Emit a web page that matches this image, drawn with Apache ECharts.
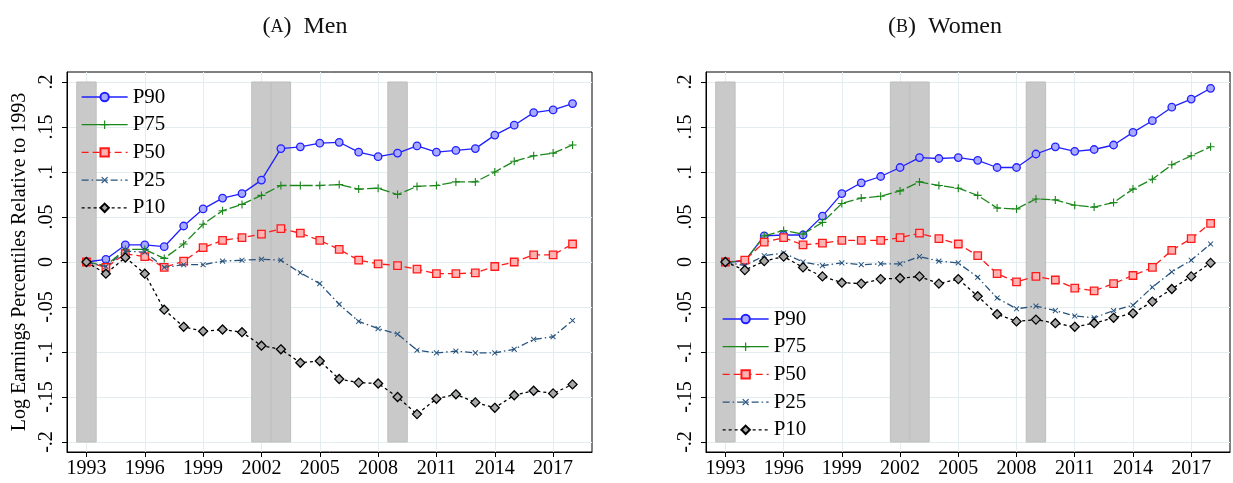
<!DOCTYPE html>
<html>
<head>
<meta charset="utf-8">
<script src="https://cdn.jsdelivr.net/npm/echarts@6/dist/echarts.min.js"></script>
<style>
  html, body { margin: 0; padding: 0; background: #ffffff; }
  #chart { width: 1233px; height: 483px; }
</style>
</head>
<body>
<div id="chart"></div>
<script>
// Survey years
const years = [1993, 1994, 1995, 1996, 1997, 1998, 1999, 2000, 2001, 2002, 2003, 2004, 2005,
               2006, 2007, 2008, 2009, 2010, 2011, 2012, 2013, 2014, 2015, 2016, 2017, 2018];

// Men: log earnings percentiles relative to 1993
const menP90 = [0, 0.003, 0.019, 0.019, 0.017, 0.040, 0.059, 0.071, 0.076, 0.091, 0.126, 0.128, 0.132,
                0.133, 0.122, 0.117, 0.121, 0.129, 0.122, 0.124, 0.126, 0.141, 0.152, 0.166, 0.169, 0.176];
const menP75 = [0, -0.004, 0.014, 0.014, 0.004, 0.020, 0.042, 0.057, 0.064, 0.074, 0.085, 0.085, 0.085,
                0.086, 0.081, 0.082, 0.075, 0.084, 0.085, 0.089, 0.089, 0.100, 0.112, 0.118, 0.121, 0.130];
const menP50 = [0, -0.006, 0.009, 0.006, -0.006, 0.001, 0.016, 0.024, 0.027, 0.031, 0.037, 0.032, 0.024,
                0.014, 0.002, -0.002, -0.004, -0.008, -0.013, -0.013, -0.012, -0.005, 0.000, 0.008, 0.008, 0.020];
const menP25 = [0, -0.005, 0.012, 0.011, -0.006, -0.003, -0.003, 0.001, 0.002, 0.003, 0.002, -0.012, -0.024,
                -0.047, -0.066, -0.074, -0.080, -0.098, -0.101, -0.099, -0.101, -0.101, -0.097, -0.086, -0.083, -0.065];
const menP10 = [0, -0.013, 0.005, -0.013, -0.053, -0.072, -0.077, -0.075, -0.078, -0.093, -0.097, -0.112, -0.110,
                -0.130, -0.134, -0.135, -0.150, -0.169, -0.152, -0.147, -0.156, -0.162, -0.148, -0.143, -0.146, -0.136];

// Women: log earnings percentiles relative to 1993
const womenP90 = [0, 0.001, 0.029, 0.030, 0.030, 0.051, 0.076, 0.088, 0.095, 0.105, 0.116, 0.115, 0.116,
                  0.113, 0.105, 0.105, 0.120, 0.128, 0.123, 0.125, 0.130, 0.144, 0.157, 0.172, 0.181, 0.193];
const womenP75 = [0, 0.001, 0.029, 0.035, 0.031, 0.044, 0.065, 0.071, 0.073, 0.079, 0.089, 0.085, 0.082,
                  0.074, 0.060, 0.059, 0.070, 0.069, 0.063, 0.061, 0.066, 0.081, 0.092, 0.108, 0.118, 0.128];
const womenP50 = [0, 0.002, 0.022, 0.027, 0.019, 0.021, 0.024, 0.024, 0.024, 0.027, 0.032, 0.026, 0.020,
                  0.007, -0.013, -0.022, -0.016, -0.020, -0.029, -0.032, -0.024, -0.015, -0.006, 0.013, 0.026, 0.043];
const womenP25 = [0, -0.004, 0.007, 0.010, 0.000, -0.004, -0.001, -0.003, -0.002, -0.002, 0.006, 0.001, -0.001,
                  -0.017, -0.040, -0.052, -0.049, -0.054, -0.060, -0.062, -0.054, -0.048, -0.028, -0.011, 0.002, 0.020];
const womenP10 = [0, -0.009, 0.001, 0.006, -0.006, -0.016, -0.023, -0.024, -0.019, -0.018, -0.016, -0.024, -0.019,
                  -0.038, -0.058, -0.066, -0.064, -0.068, -0.072, -0.068, -0.062, -0.057, -0.044, -0.030, -0.016, -0.001];

// Recession years (shaded one year wide, from -.2 to .2)
const recessionYears = [1993, 2002, 2003, 2009];

// Axis ticks and labels
const xTickValues = [1993, 1996, 1999, 2002, 2005, 2008, 2011, 2014, 2017];
const yTickValues = [-0.2, -0.15, -0.1, -0.05, 0, 0.05, 0.1, 0.15, 0.2];
const yTickLabels = ['-.2', '-.15', '-.1', '-.05', '0', '.05', '.1', '.15', '.2'];

const percentileNames = ['P90', 'P75', 'P50', 'P25', 'P10'];
const menSeries = [menP90, menP75, menP50, menP25, menP10];
const womenSeries = [womenP90, womenP75, womenP50, womenP25, womenP10];

const SERIF = "'Liberation Serif', 'DejaVu Serif', serif";
const PLUS = 'path://M4.3,0H5.7V4.3H10V5.7H5.7V10H4.3V5.7H0V4.3H4.3Z';

const styles = {
  P90: { color: '#1f1fff', fill: '#a9a9ff', symbol: 'circle', size: 7.5, rotate: 0, dash: 'solid', key: 'solid' },
  P75: { color: '#1b881b', fill: '#1b881b', symbol: PLUS, size: 8, rotate: 0, dash: [10, 3], key: 'solid' },
  P50: { color: '#ff1a1a', fill: '#ffb2b2', symbol: 'rect', size: 7.5, rotate: 0, dash: [7, 4], key: [7, 4] },
  P25: { color: '#27537e', fill: '#27537e', symbol: PLUS, size: 7, rotate: 45, dash: [7, 3, 1.5, 3], key: [7, 3, 1.5, 3] },
  P10: { color: '#000000', fill: '#a8a8a8', symbol: 'diamond', size: 9, rotate: 0, dash: [3, 3], key: [3, 3] }
};

const Y_MIN = -0.2111, Y_MAX = 0.2111;

function yLabel(v) {
  for (let i = 0; i < yTickValues.length; i++) {
    if (Math.abs(v - yTickValues[i]) < 1e-9) return yTickLabels[i];
  }
  return '';
}

const grids = [
  { left: 67, top: 72, width: 525, height: 380 },
  { left: 706, top: 72, width: 524, height: 380 }
];

function makeXAxis(gridIndex) {
  return {
    type: 'value', gridIndex: gridIndex, min: 1992, max: 2019,
    axisLine: { show: true, onZero: false, lineStyle: { color: '#000', width: 1 } },
    axisTick: { show: true, customValues: xTickValues, length: 5, lineStyle: { color: '#000', width: 1 } },
    axisLabel: { customValues: xTickValues, formatter: v => String(v), margin: 7,
                 fontFamily: SERIF, fontSize: 20, color: '#000' },
    splitLine: { show: true, lineStyle: { color: '#e3ecef', width: 1 } }
  };
}

function makeYAxis(gridIndex, withName) {
  const axis = {
    type: 'value', gridIndex: gridIndex, min: Y_MIN, max: Y_MAX,
    axisLine: { show: true, lineStyle: { color: '#000', width: 1 } },
    axisTick: { show: true, customValues: yTickValues, length: 5, lineStyle: { color: '#000', width: 1 } },
    axisLabel: { customValues: yTickValues, formatter: yLabel, rotate: 90, margin: 10,
                 fontFamily: SERIF, fontSize: 20, color: '#000' },
    splitLine: { show: true, lineStyle: { color: '#e3ecef', width: 1 } }
  };
  if (withName) {
    axis.name = 'Log Earnings Percentiles Relative to 1993';
    axis.nameLocation = 'middle';
    axis.nameRotate = 90;
    axis.nameGap = 37;
    axis.nameTextStyle = { fontFamily: SERIF, fontSize: 20, color: '#000' };
  }
  return axis;
}

function shadeSeries(idx) {
  return {
    type: 'custom', xAxisIndex: idx, yAxisIndex: idx, silent: true, z: 1,
    data: recessionYears.map(y => [y]),
    renderItem: function (params, api) {
      const yr = api.value(0);
      const p0 = api.coord([yr - 0.5, 0.2]);
      const p1 = api.coord([yr + 0.5, -0.2]);
      return {
        type: 'rect',
        shape: { x: p0[0], y: p0[1], width: p1[0] - p0[0], height: p1[1] - p0[1] },
        style: { fill: '#c9c9c9', stroke: '#bebebe', lineWidth: 1 }
      };
    }
  };
}

function lineSeries(idx, values) {
  return percentileNames.map((name, k) => {
    const s = styles[name];
    return {
      type: 'line', name: name, xAxisIndex: idx, yAxisIndex: idx, z: 3 + k,
      data: years.map((yr, i) => [yr, values[k][i]]),
      symbol: s.symbol, symbolSize: s.size, symbolRotate: s.rotate, showAllSymbol: true,
      lineStyle: { color: s.color, width: 1.3, type: s.dash },
      itemStyle: { color: s.fill, borderColor: s.color, borderWidth: (s.symbol === PLUS ? 0 : 1.3) },
      emphasis: { disabled: true },
      animation: false
    };
  });
}

function makeLegend(left, top) {
  return {
    orient: 'vertical', left: left, top: top,
    data: percentileNames.map(name => ({
      name: name,
      lineStyle: { type: styles[name].key, width: 1.3, color: styles[name].color }
    })),
    itemWidth: 46, itemHeight: 10.5, itemGap: 5.7,
    selectedMode: false,
    textStyle: { fontFamily: SERIF, fontSize: 21, color: '#000', lineHeight: 22 }
  };
}

function makeTitle(letter, word, center) {
  return {
    text: '{p|(}{s|' + letter + '}{p|)  ' + word + '}',
    left: center, top: 10, textAlign: 'center',
    textStyle: {
      fontWeight: 'normal',
      rich: {
        p: { fontFamily: SERIF, fontSize: 24, fontWeight: 'normal', color: '#111' },
        s: { fontFamily: SERIF, fontSize: 18, fontWeight: 'normal', color: '#111' }
      }
    }
  };
}

const chart = echarts.init(document.getElementById('chart'), null, { renderer: 'canvas' });
chart.setOption({
  animation: false,
  backgroundColor: '#ffffff',
  title: [makeTitle('A', 'Men', 300), makeTitle('B', 'Women', 940)],
  grid: grids.map(g => Object.assign({ show: true, borderColor: '#000', borderWidth: 1,
                                       backgroundColor: '#ffffff' }, g)),
  xAxis: [makeXAxis(0), makeXAxis(1)],
  yAxis: [makeYAxis(0, true), makeYAxis(1, false)],
  legend: [makeLegend(76, 81), makeLegend(717, 303)],
  series: [shadeSeries(0), shadeSeries(1)]
    .concat(lineSeries(0, menSeries))
    .concat(lineSeries(1, womenSeries))
});
</script>
</body>
</html>
